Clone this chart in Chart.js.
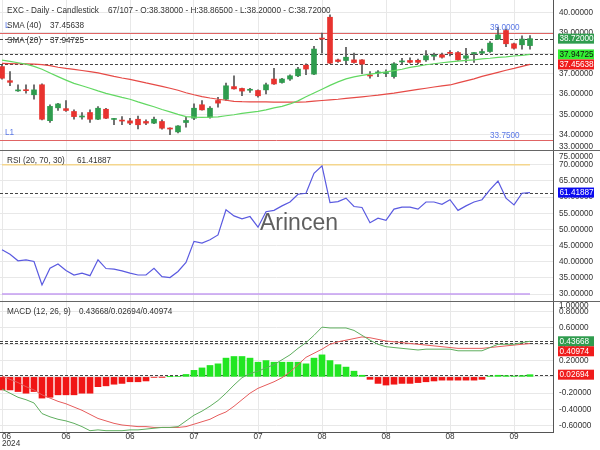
<!DOCTYPE html>
<html>
<head>
<meta charset="utf-8">
<script src="https://cdn.jsdelivr.net/npm/chart.js@4.4.1/dist/chart.umd.min.js"></script>
<style>
  body { margin: 0; background: #fff; }
  #wrap { position: relative; width: 600px; height: 450px; overflow: hidden; font-family: 'Liberation Sans', Arial, sans-serif; }
  #chart { position: absolute; left: 0; top: -11px; }
  .t { position: absolute; font-size: 8.2px; line-height: 10px; color: #333; white-space: pre; }
  #mark { position: absolute; left: 260px; top: 211px; font-size: 23px; line-height: 23px; color: #5f5f5f; }
</style>
</head>
<body>
<div id="wrap">
  <canvas id="chart" width="600" height="465"></canvas>
  <div class="t" id="title" style="left:7px;top:6px"></div>
  <div class="t" id="ohlc" style="left:108px;top:6px"></div>
  <div class="t" style="left:7px;top:20.5px">SMA (40)</div>
  <div class="t" id="sma40v" style="left:50px;top:20.5px"></div>
  <div class="t" style="left:7px;top:35.5px">SMA (20)</div>
  <div class="t" id="sma20v" style="left:50px;top:35.5px"></div>
  <div class="t" style="left:7px;top:156px">RSI (20, 70, 30)</div>
  <div class="t" id="rsiv" style="left:77px;top:156px"></div>
  <div class="t" style="left:7px;top:306.5px">MACD (12, 26, 9)</div>
  <div class="t" id="macdv" style="left:79px;top:306.5px"></div>
  <div id="mark">Arincen</div>
</div>
<script>
// daily candles
const opens  = [37.35, 36.66, 36.16, 36.20, 35.97, 36.46, 34.70, 35.33, 35.29, 35.15,
                34.88, 35.10, 34.77, 35.26, 34.76, 34.71, 34.69, 34.77, 34.66, 34.58,
                34.66, 34.32, 34.15, 34.61, 34.82, 35.48, 34.87, 35.69, 35.75, 36.37,
                36.28, 36.19, 36.18, 36.21, 36.74, 36.57, 36.74, 36.90, 37.42, 36.98,
                38.74, 39.77, 37.68, 37.65, 37.68, 37.68, 36.92, 37.04, 37.01, 36.86,
                37.58, 37.65, 37.66, 37.68, 37.86, 37.93, 38.02, 38.04, 37.76, 37.99,
                38.01, 38.09, 38.70, 39.12, 38.47, 38.42, 38.38];
const highs  = [37.42, 37.11, 36.46, 36.46, 36.46, 36.50, 35.48, 35.55, 35.69, 35.23,
                35.10, 35.23, 35.39, 35.30, 34.82, 34.90, 34.82, 34.93, 34.74, 34.87,
                34.74, 34.35, 34.46, 34.87, 35.52, 35.69, 35.39, 35.85, 36.54, 36.90,
                36.30, 36.29, 36.21, 36.54, 37.27, 36.78, 36.95, 37.32, 37.49, 38.35,
                38.99, 39.89, 37.72, 38.30, 38.01, 37.70, 37.11, 37.16, 37.19, 37.55,
                37.76, 37.78, 37.72, 38.14, 38.01, 38.01, 38.14, 38.09, 38.25, 38.04,
                38.21, 38.58, 39.28, 39.19, 38.50, 38.86, 38.865];
const lows   = [36.74, 36.41, 36.13, 36.05, 35.75, 34.74, 34.62, 35.20, 35.15, 34.77,
                34.77, 34.61, 34.75, 34.80, 34.50, 34.50, 34.50, 34.30, 34.50, 34.55,
                34.28, 34.02, 34.10, 34.38, 34.75, 35.22, 34.82, 35.36, 35.69, 36.24,
                35.93, 36.08, 35.85, 36.01, 36.48, 36.54, 36.67, 36.86, 36.95, 36.95,
                38.01, 37.49, 37.55, 37.44, 37.52, 37.00, 36.78, 36.86, 36.86, 36.78,
                37.44, 37.52, 37.50, 37.60, 37.68, 37.76, 37.88, 37.65, 37.55, 37.55,
                37.93, 38.04, 38.68, 38.33, 38.21, 38.21, 38.20];
const closes = [36.78, 36.58, 36.19, 36.17, 36.21, 34.77, 35.40, 35.52, 35.20, 34.90,
                34.92, 34.77, 35.31, 34.82, 34.78, 34.68, 34.58, 34.50, 34.58, 34.77,
                34.33, 34.29, 34.44, 34.71, 35.31, 35.23, 35.31, 35.56, 36.41, 36.26,
                36.15, 36.20, 35.92, 36.46, 36.50, 36.74, 36.90, 37.23, 37.23, 38.21,
                38.70, 37.52, 37.60, 37.81, 37.55, 37.47, 36.89, 37.06, 37.04, 37.49,
                37.61, 37.56, 37.56, 37.88, 37.89, 37.81, 38.00, 37.68, 37.88, 38.01,
                38.09, 38.50, 38.91, 38.47, 38.25, 38.70, 38.72];

const sma20 = [37.67, 37.61, 37.54, 37.47, 37.36, 37.22, 37.04, 36.86, 36.69, 36.53,
               36.41, 36.29, 36.16, 36.04, 35.94, 35.84, 35.75, 35.62, 35.50, 35.38,
               35.25, 35.13, 35.01, 34.90, 34.87, 34.86, 34.87, 34.89, 34.94, 34.99,
               35.06, 35.11, 35.16, 35.23, 35.33, 35.40, 35.52, 35.67, 35.87, 36.06,
               36.24, 36.43, 36.60, 36.75, 36.85, 36.92, 36.98, 37.03, 37.09, 37.15,
               37.22, 37.31, 37.37, 37.44, 37.49, 37.54, 37.58, 37.62, 37.66, 37.68,
               37.73, 37.76, 37.80, 37.83, 37.87, 37.90, 37.94725];
const sma40 = [37.51, 37.50, 37.49, 37.48, 37.47, 37.45, 37.40, 37.32, 37.26, 37.21,
               37.16, 37.10, 37.04, 36.96, 36.87, 36.79, 36.72, 36.64, 36.55, 36.47,
               36.38, 36.29, 36.19, 36.07, 35.97, 35.88, 35.81, 35.75, 35.70, 35.65,
               35.63, 35.62, 35.62, 35.62, 35.61, 35.61, 35.61, 35.61, 35.62, 35.66,
               35.69, 35.72, 35.75, 35.79, 35.83, 35.87, 35.91, 35.95, 36.00, 36.05,
               36.11, 36.17, 36.23, 36.29, 36.35, 36.41, 36.45, 36.55, 36.65, 36.75,
               36.87, 36.97, 37.07, 37.17, 37.26, 37.36, 37.45638];

const rsi = [43.7, 42.3, 40.3, 40.6, 40.1, 32.8, 38.0, 39.3, 37.3, 35.9,
             36.5, 35.7, 40.6, 37.9, 37.7, 37.2, 36.5, 35.9, 35.9, 38.0,
             35.4, 35.1, 37.0, 39.8, 46.3, 45.8, 46.8, 48.3, 56.1, 54.2,
             53.3, 54.0, 50.7, 55.5, 55.9, 57.3, 58.5, 60.9, 61.2, 67.4,
             69.7, 58.3, 58.6, 59.7, 57.1, 56.8, 52.1, 53.5, 52.8, 56.3,
             56.9, 56.9, 56.3, 58.5, 58.5, 57.8, 59.2, 55.9, 57.3, 58.5,
             59.2, 62.3, 65.0, 59.7, 57.6, 61.2, 61.41887];

const macd = [-0.15, -0.20, -0.25, -0.28, -0.32, -0.45, -0.49, -0.52, -0.54, -0.57,
              -0.61, -0.66, -0.65, -0.66, -0.66, -0.66, -0.65, -0.65, -0.64, -0.63,
              -0.62, -0.62, -0.61, -0.54, -0.47, -0.42, -0.36, -0.29, -0.20, -0.10,
              -0.01, 0.04, 0.07, 0.11, 0.15, 0.21, 0.27, 0.35, 0.42, 0.51,
              0.61, 0.60, 0.60, 0.60, 0.57, 0.51, 0.45, 0.40, 0.37, 0.36,
              0.35, 0.34, 0.33, 0.34, 0.34, 0.34, 0.34, 0.32, 0.32, 0.32,
              0.32, 0.36, 0.40, 0.40, 0.40, 0.42, 0.43668];
const signal = [0.01, -0.03, -0.07, -0.12, -0.16, -0.22, -0.26, -0.30, -0.33, -0.37,
                -0.41, -0.46, -0.51, -0.54, -0.57, -0.59, -0.60, -0.61, -0.61, -0.62,
                -0.62, -0.62, -0.62, -0.61, -0.58, -0.55, -0.52, -0.47, -0.43, -0.36,
                -0.28, -0.20, -0.14, -0.10, -0.06, -0.01, 0.06, 0.15, 0.24, 0.29,
                0.34, 0.40, 0.43, 0.45, 0.47, 0.49, 0.48, 0.46, 0.44, 0.43,
                0.42, 0.41, 0.40, 0.39, 0.38, 0.37, 0.36, 0.35, 0.35, 0.35,
                0.35, 0.36, 0.37, 0.38, 0.39, 0.40, 0.40974];
const hist = [-0.16, -0.16, -0.18, -0.20, -0.18, -0.26, -0.25, -0.22, -0.22, -0.22,
              -0.20, -0.20, -0.12, -0.11, -0.09, -0.08, -0.06, -0.06, -0.05, -0.004,
              -0.002, 0.002, 0.005, 0.03, 0.08, 0.11, 0.14, 0.16, 0.23, 0.25,
              0.25, 0.23, 0.18, 0.20, 0.18, 0.18, 0.18, 0.18, 0.16, 0.23,
              0.27, 0.20, 0.15, 0.12, 0.07, 0.02, -0.03, -0.08, -0.10, -0.09,
              -0.08, -0.08, -0.07, -0.06, -0.05, -0.04, -0.04, -0.04, -0.04, -0.04,
              -0.03, 0.01, 0.02, 0.015, 0.01, 0.015, 0.02694];

const dateTicks = [0, 8, 16, 24, 32, 40, 48, 56, 64];
const dateLabels = ['06', '06', '06', '07', '07', '08', '08', '08', '09'];
const yearLabel = '2024';
const priceTicks = [33, 34, 35, 36, 37, 38, 39, 40];
const rsiTicks = [30, 35, 40, 45, 50, 55, 60, 65, 70, 75];
const macdTicks = [-0.6, -0.4, -0.2, 0, 0.2, 0.4, 0.6, 0.8, 1.0];
const levels = [39.0, 33.75];
const rsiBands = [70, 30];

const last = closes.length - 1;
const idx = closes.map((_, i) => i);
const pts = arr => arr.map((v, i) => ({ x: i, y: v }));

const UP = '#2f9c4e';
const DOWN = '#e8332f';
const GRID = '#e8e8e8';
const FONT = "'Liberation Sans', Arial, sans-serif";

Chart.defaults.font.family = FONT;
Chart.defaults.font.size = 8.2;
Chart.defaults.color = '#333';

// header texts
document.getElementById('title').textContent = 'EXC - Daily - Candlestick';
document.getElementById('ohlc').textContent = '67/107 - O:' + opens[last].toFixed(5) +
  ' - H:' + highs[last].toFixed(5) + ' - L:' + lows[last].toFixed(5) + ' - C:' + closes[last].toFixed(5);
document.getElementById('sma40v').textContent = sma40[last].toFixed(5);
document.getElementById('sma20v').textContent = sma20[last].toFixed(5);
document.getElementById('rsiv').textContent = rsi[last].toFixed(5);
document.getElementById('macdv').textContent = macd[last].toFixed(5) + '/' + hist[last].toFixed(5) + '/' + signal[last].toFixed(5);

// ticks that fall outside a pane get pulled back inside it (label only, no grid line)
function paneAxis(values, weight, min, max, lo, hi) {
  return {
    type: 'linear',
    position: 'right',
    stack: 'panes',
    stackWeight: weight,
    bounds: 'data',
    min: min,
    max: max,
    afterBuildTicks: scale => {
      scale.ticks = values.map(v => ({ value: Math.min(Math.max(v, lo), hi) }));
    },
    afterFit: scale => { scale.width = 47; },
    ticks: { autoSkip: false, padding: 6, callback: (v, i) => values[i].toFixed(5) },
    grid: {
      drawTicks: false,
      color: ctx => (ctx.tick && ctx.tick.value === values[ctx.index]) ? GRID : 'rgba(0,0,0,0)'
    },
    border: { color: '#555' }
  };
}

function rule(ctx, area, y, color, dash) {
  ctx.save();
  ctx.strokeStyle = color;
  ctx.lineWidth = 1;
  ctx.setLineDash(dash);
  ctx.beginPath();
  ctx.moveTo(area.left, Math.round(y) + 0.5);
  ctx.lineTo(area.right, Math.round(y) + 0.5);
  ctx.stroke();
  ctx.restore();
}

function tags(ctx, x, list) {
  list.sort((a, b) => a.y - b.y);
  let next = -Infinity;
  list.forEach(t => {
    const top = Math.max(t.y - 5, next);
    ctx.fillStyle = t.bg;
    ctx.fillRect(x, top, 36, 10);
    ctx.fillStyle = t.fg;
    ctx.textBaseline = 'middle';
    ctx.fillText(t.text, x + 1.5, top + 5.5);
    next = top + 10;
  });
}

const overlay = {
  id: 'overlay',
  beforeDatasetsDraw(chart) {
    const { ctx, chartArea: a, scales } = chart;
    levels.forEach(v => rule(ctx, a, scales.y.getPixelForValue(v), '#e06464', []));
    [closes[last], sma20[last], sma40[last]].forEach(v =>
      rule(ctx, a, scales.y.getPixelForValue(v), '#444', [3, 2]));
    rule(ctx, a, scales.y2.getPixelForValue(rsi[last]), '#444', [3, 2]);
    [macd[last], signal[last], hist[last]].forEach(v =>
      rule(ctx, a, scales.y3.getPixelForValue(v), '#444', [3, 2]));
  },
  afterDraw(chart) {
    const { ctx, chartArea: a, scales } = chart;
    ctx.save();

    // pane separators
    ctx.strokeStyle = '#666';
    ctx.lineWidth = 1;
    [scales.y.bottom, scales.y2.bottom].forEach(p => {
      ctx.beginPath();
      ctx.moveTo(0, Math.round(p) + 0.5);
      ctx.lineTo(chart.width, Math.round(p) + 0.5);
      ctx.stroke();
    });

    // level labels
    ctx.font = '8.2px ' + FONT;
    ctx.fillStyle = '#5a78e6';
    ctx.textBaseline = 'alphabetic';
    levels.forEach((v, k) => {
      const p = scales.y.getPixelForValue(v);
      ctx.fillText(k === 0 ? 'L' : 'L1', a.left + 5, p - 5);
      ctx.fillText(v.toFixed(4), a.right - 63, p - 2.5);
    });

    // last value tags on the right axis
    const x = a.right + 5;
    tags(ctx, x, [
      { y: scales.y.getPixelForValue(closes[last]), text: closes[last].toFixed(5), bg: UP, fg: '#fff' },
      { y: scales.y.getPixelForValue(sma20[last]), text: sma20[last].toFixed(5), bg: '#33ee33', fg: '#111' },
      { y: scales.y.getPixelForValue(sma40[last]), text: sma40[last].toFixed(5), bg: '#f01c1c', fg: '#fff' }
    ]);
    tags(ctx, x, [
      { y: scales.y2.getPixelForValue(rsi[last]), text: rsi[last].toFixed(5), bg: '#0b0bef', fg: '#fff' }
    ]);
    tags(ctx, x, [
      { y: scales.y3.getPixelForValue(macd[last]), text: macd[last].toFixed(5), bg: UP, fg: '#fff' },
      { y: scales.y3.getPixelForValue(signal[last]), text: signal[last].toFixed(5), bg: '#f01c1c', fg: '#fff' },
      { y: scales.y3.getPixelForValue(hist[last]), text: hist[last].toFixed(5), bg: '#f01c1c', fg: '#fff' }
    ]);
    ctx.restore();
  }
};

const chart = new Chart(document.getElementById('chart').getContext('2d'), {
  type: 'bar',
  data: {
    datasets: [
      {
        label: 'body',
        yAxisID: 'y',
        data: idx.map(i => ({ x: i, y: [opens[i], closes[i]] })),
        backgroundColor: idx.map(i => closes[i] >= opens[i] ? UP : DOWN),
        barThickness: 5,
        minBarLength: 1,
        grouped: false,
        order: 2
      },
      {
        label: 'wick',
        yAxisID: 'y',
        data: idx.map(i => ({ x: i, y: [lows[i], highs[i]] })),
        backgroundColor: '#555',
        barThickness: 1,
        grouped: false,
        order: 3
      },
      {
        type: 'line',
        label: 'SMA (20)',
        yAxisID: 'y',
        data: pts(sma20),
        borderColor: '#62d862',
        borderWidth: 1.2,
        pointRadius: 0,
        order: 1
      },
      {
        type: 'line',
        label: 'SMA (40)',
        yAxisID: 'y',
        data: pts(sma40),
        borderColor: '#e64a46',
        borderWidth: 1.2,
        pointRadius: 0,
        order: 1
      },
      ...rsiBands.map((v, k) => ({
        type: 'line',
        label: 'band ' + v,
        yAxisID: 'y2',
        data: [{ x: idx[0], y: v }, { x: idx[last], y: v }],
        borderColor: k === 0 ? '#f4d68e' : '#c49cf2',
        borderWidth: 1.5,
        pointRadius: 0,
        order: 4
      })),
      {
        type: 'line',
        label: 'RSI',
        yAxisID: 'y2',
        data: pts(rsi),
        borderColor: '#5a5ae0',
        borderWidth: 1.2,
        pointRadius: 0,
        order: 1
      },
      {
        label: 'hist',
        yAxisID: 'y3',
        data: pts(hist),
        backgroundColor: hist.map(v => v >= 0 ? '#22e622' : '#f01515'),
        barThickness: 6,
        grouped: false,
        order: 3
      },
      {
        type: 'line',
        label: 'MACD',
        yAxisID: 'y3',
        data: pts(macd),
        borderColor: '#5fae5f',
        borderWidth: 1,
        pointRadius: 0,
        order: 1
      },
      {
        type: 'line',
        label: 'Signal',
        yAxisID: 'y3',
        data: pts(signal),
        borderColor: '#e65c5c',
        borderWidth: 1,
        pointRadius: 0,
        order: 1
      }
    ]
  },
  options: {
    responsive: false,
    devicePixelRatio: 1,
    animation: false,
    events: [],
    plugins: { legend: { display: false }, tooltip: { enabled: false } },
    scales: {
      x: {
        type: 'linear',
        bounds: 'data',
        offset: false,
        min: -0.25,
        max: 68.875,
        afterBuildTicks: scale => {
          scale.ticks = dateTicks.map(v => ({ value: v })).concat([{ value: scale.max }]);
        },
        afterFit: scale => { scale.height = 22; },
        ticks: {
          autoSkip: false,
          maxRotation: 0,
          align: 'inner',
          padding: 1,
          font: { size: 8.2, lineHeight: 0.85 },
          callback: (v, i) => i === 0 ? [dateLabels[0], yearLabel] : (dateLabels[i] || '')
        },
        grid: { color: GRID, drawTicks: false, offset: false },
        border: { color: '#555' }
      },
      y: paneAxis(priceTicks, 150, 33.265, 40.619, 33.43, 41),
      y2: paneAxis(rsiTicks, 151, 27.86, 74.61, 0, 72.57),
      y3: paneAxis(macdTicks, 131, -0.676, 0.931, -1, 0.875)
    }
  },
  plugins: [overlay]
});
</script>
</body>
</html>
